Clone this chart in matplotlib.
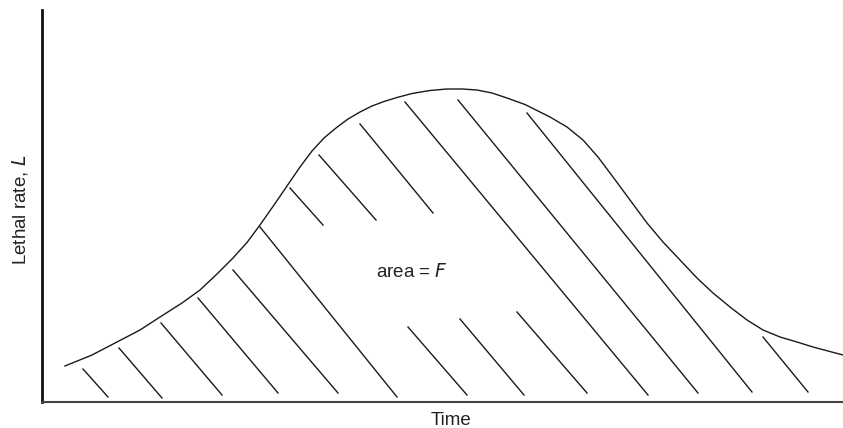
import numpy as np
import matplotlib.pyplot as plt

plt.rcParams['font.family'] = ['Liberation Sans', 'DejaVu Sans']

# Lethal-rate curve (arbitrary units)
time = [23, 50, 75, 98, 118, 140, 158, 175, 191, 205, 218, 232, 245, 258, 270,
        282, 294, 306, 318, 330, 342, 355, 370, 388, 405, 420, 435, 450, 465,
        483, 508, 525, 541, 556, 571, 588, 605, 621, 638, 655, 671, 688, 705,
        721, 738, 755, 771, 786, 801]
lethal = [36, 47, 60, 72, 85, 99, 112, 128, 144, 159.5, 177, 197, 216, 235, 251,
          264, 274, 283, 290, 296, 300.5, 304.5, 308.5, 311.5, 313, 313, 312, 309, 304,
          297.5, 285, 275, 262, 245, 225, 202, 179, 160, 142, 124, 109, 95, 82,
          72, 65, 60, 55, 51, 47]

# Hand-drawn hatch strokes under the curve: start (t, L) -> end (t, L)
hatch_t0 = [41, 77, 119, 156, 191, 218, 248, 277, 318, 366, 418, 475, 363, 416, 485, 721]
hatch_L0 = [33, 54, 79, 104, 132, 175, 214, 247, 278, 75, 83, 90, 300, 302, 289, 65]
hatch_t1 = [66, 120, 180, 236, 296, 355, 281, 334, 391, 425, 482, 545, 606, 656, 710, 766]
hatch_L1 = [5, 4, 7, 9, 9, 5, 177, 182, 189, 7, 7, 9, 7, 9, 10, 10]

fig = plt.figure(figsize=(8.43, 4.28), dpi=100)
ax = fig.add_axes([42 / 843, 26 / 428, 801 / 843, 392 / 428])

ax.plot(time, lethal, color='#1a1a1a', lw=1.0, solid_joinstyle='round')
for t0, l0, t1, l1 in zip(hatch_t0, hatch_L0, hatch_t1, hatch_L1):
    ax.plot([t0, t1], [l0, l1], color='#1a1a1a', lw=1.0)

ax.text(370, 130, 'area = $F$', ha='center', va='center', fontsize=13.5, color='#222222')

ax.set_xlim(0, 801)
ax.set_ylim(0, 392)
ax.set_xticks([])
ax.set_yticks([])
for side in ['top', 'right']:
    ax.spines[side].set_visible(False)
ax.spines['left'].set_linewidth(2.0)
ax.spines['left'].set_color('#111111')
ax.spines['bottom'].set_linewidth(1.5)
ax.spines['bottom'].set_color('#444444')

ax.set_ylabel('Lethal rate, $L$', fontsize=13.5, color='#222222')
ax.yaxis.set_label_coords(-0.015, 0.49)
ax.set_xlabel('Time', fontsize=13.5, color='#222222')
ax.xaxis.set_label_coords(0.51, -0.025)

fig.savefig('out.png', dpi=100)
